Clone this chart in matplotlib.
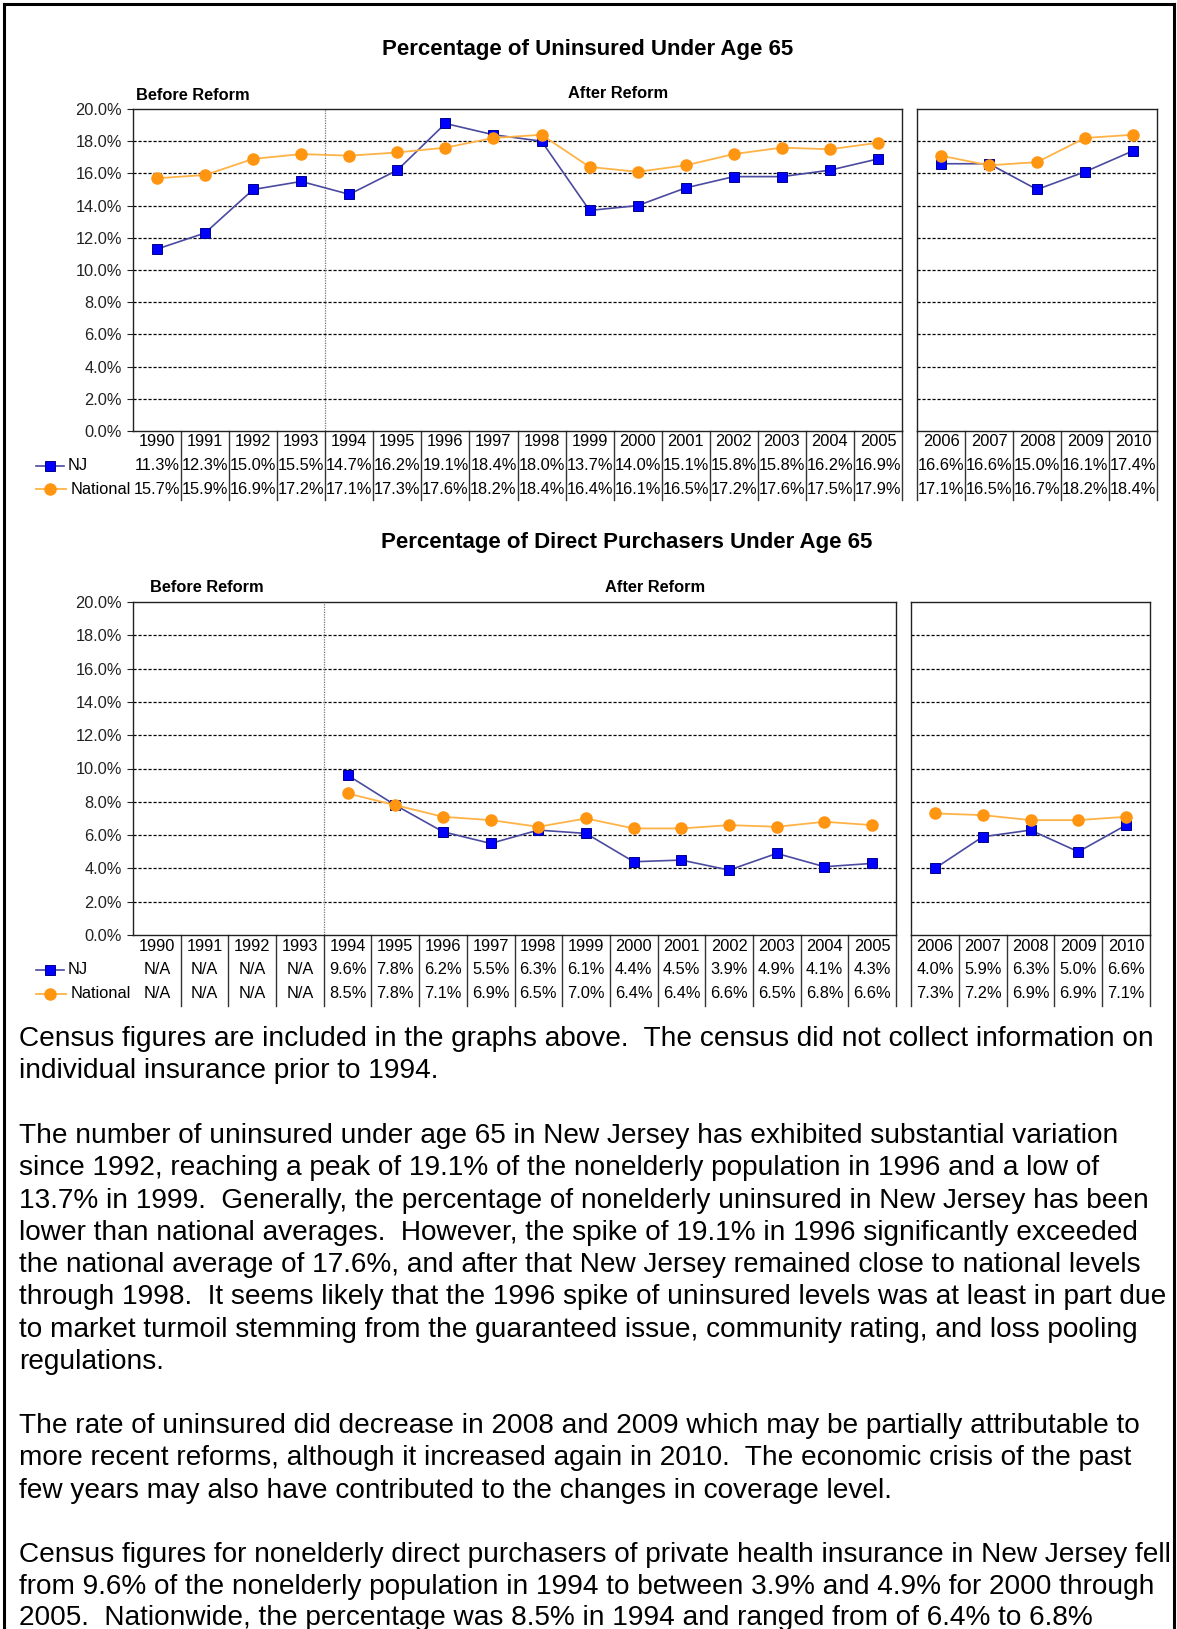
import numpy as np
import matplotlib
matplotlib.use("Agg")
import matplotlib.pyplot as plt
from matplotlib.lines import Line2D
from matplotlib.ticker import FormatStrFormatter
from matplotlib.transforms import blended_transform_factory

# ---- data ----
years_a = [str(y) for y in range(1990, 2006)]
years_b = ["2006", "2007", "2008", "2009", "2010"]

unins_nj_a = [11.3, 12.3, 15.0, 15.5, 14.7, 16.2, 19.1, 18.4, 18.0, 13.7, 14.0, 15.1, 15.8, 15.8, 16.2, 16.9]
unins_nat_a = [15.7, 15.9, 16.9, 17.2, 17.1, 17.3, 17.6, 18.2, 18.4, 16.4, 16.1, 16.5, 17.2, 17.6, 17.5, 17.9]
unins_nj_b = [16.6, 16.6, 15.0, 16.1, 17.4]
unins_nat_b = [17.1, 16.5, 16.7, 18.2, 18.4]

na = np.nan
direct_nj_a = [na, na, na, na, 9.6, 7.8, 6.2, 5.5, 6.3, 6.1, 4.4, 4.5, 3.9, 4.9, 4.1, 4.3]
direct_nat_a = [na, na, na, na, 8.5, 7.8, 7.1, 6.9, 6.5, 7.0, 6.4, 6.4, 6.6, 6.5, 6.8, 6.6]
direct_nj_b = [4.0, 5.9, 6.3, 5.0, 6.6]
direct_nat_b = [7.3, 7.2, 6.9, 6.9, 7.1]

para_lines = [
    ["Census figures are included in the graphs above.  The census did not collect information on",
     "individual insurance prior to 1994."],
    ["The number of uninsured under age 65 in New Jersey has exhibited substantial variation",
     "since 1992, reaching a peak of 19.1% of the nonelderly population in 1996 and a low of",
     "13.7% in 1999.  Generally, the percentage of nonelderly uninsured in New Jersey has been",
     "lower than national averages.  However, the spike of 19.1% in 1996 significantly exceeded",
     "the national average of 17.6%, and after that New Jersey remained close to national levels",
     "through 1998.  It seems likely that the 1996 spike of uninsured levels was at least in part due",
     "to market turmoil stemming from the guaranteed issue, community rating, and loss pooling",
     "regulations."],
    ["The rate of uninsured did decrease in 2008 and 2009 which may be partially attributable to",
     "more recent reforms, although it increased again in 2010.  The economic crisis of the past",
     "few years may also have contributed to the changes in coverage level."],
    ["Census figures for nonelderly direct purchasers of private health insurance in New Jersey fell",
     "from 9.6% of the nonelderly population in 1994 to between 3.9% and 4.9% for 2000 through",
     "2005.  Nationwide, the percentage was 8.5% in 1994 and ranged from of 6.4% to 6.8%"],
]

# ---- style ----
W, H = 1177, 1629
NJ_LINE, NJ_FILL, NJ_EDGE = "#4a4aa0", "#0000ff", "#00008b"
NAT_LINE, NAT_FILL = "#ffb347", "#ff9510"
TS = 11.8  # table / tick font size
plt.rcParams["font.family"] = "Liberation Sans"

fig = plt.figure(figsize=(W / 100, H / 100), dpi=100)


def fx(px):
    return px / W


def fy(py):
    return 1 - py / H


def fmt(v):
    return "N/A" if np.isnan(v) else "%.1f%%" % v


def panel(l, t, r, b, years, nj, nat, rows, line_bottom, first):
    ax = fig.add_axes([fx(l), fy(b), fx(r - l), (b - t) / H])
    x = np.arange(len(years))
    for v in range(2, 20, 2):
        ax.axhline(v, color="black", lw=0.9, ls=(0, (2.5, 1.5)), zorder=1)
    ax.plot(x, nj, color=NJ_LINE, lw=1.2, marker="s", ms=7, mfc=NJ_FILL, mec=NJ_EDGE, mew=0.7, zorder=3)
    ax.plot(x, nat, color=NAT_LINE, lw=1.3, marker="o", ms=8, mfc=NAT_FILL, mec=NAT_FILL, zorder=4)
    ax.set_xlim(-0.5, len(years) - 0.5)
    ax.set_ylim(0, 20)
    ax.set_xticks([])
    ax.set_yticks(np.arange(0, 21, 2))
    for s in ax.spines.values():
        s.set_color("#222222")
        s.set_linewidth(1.0)
    if first:
        ax.yaxis.set_major_formatter(FormatStrFormatter("%.1f%%"))
        ax.tick_params(axis="y", length=4, pad=4, labelsize=TS, colors="#222222")
        ax.axvline(3.5, color="#777777", lw=0.9, ls=(0, (1, 1)), zorder=2)
    else:
        ax.tick_params(axis="y", left=False, labelleft=False)

    # data table below the plot
    tr = blended_transform_factory(ax.transData, fig.transFigure)
    edges = x + 0.5 if first else np.append(x - 0.5, x[-1] + 0.5)
    for e in edges:
        ax.plot([e, e], [fy(b), fy(line_bottom)], color="#333333", lw=1.0,
                transform=tr, clip_on=False)
    for i, yr in enumerate(years):
        ax.text(i, fy(rows[0]), yr, transform=tr, ha="center", va="center", fontsize=TS)
        ax.text(i, fy(rows[1]), fmt(nj[i]), transform=tr, ha="center", va="center", fontsize=TS)
        ax.text(i, fy(rows[2]), fmt(nat[i]), transform=tr, ha="center", va="center", fontsize=TS)
    return ax


def row_keys(rows):
    fig.add_artist(Line2D([fx(36), fx(64)], [fy(rows[1])] * 2, color=NJ_LINE, lw=1.2))
    fig.add_artist(Line2D([fx(50)], [fy(rows[1])], marker="s", ms=7, mfc=NJ_FILL, mec=NJ_EDGE, mew=0.7))
    fig.text(fx(68), fy(rows[1]), "NJ", ha="left", va="center", fontsize=TS)
    fig.add_artist(Line2D([fx(36), fx(66)], [fy(rows[2])] * 2, color=NAT_LINE, lw=1.3))
    fig.add_artist(Line2D([fx(50)], [fy(rows[2])], marker="o", ms=8, mfc=NAT_FILL, mec=NAT_FILL))
    fig.text(fx(71), fy(rows[2]), "National", ha="left", va="center", fontsize=TS)


# ---- chart 1: uninsured ----
rows1 = [442, 466, 489]
fig.text(fx(588), fy(49), "Percentage of Uninsured Under Age 65", ha="center", va="center",
         fontsize=16, fontweight="bold")
panel(133, 109, 902, 431, years_a, unins_nj_a, unins_nat_a, rows1, 500, True)
panel(917, 109, 1157, 431, years_b, unins_nj_b, unins_nat_b, rows1, 500, False)
fig.text(fx(136), fy(95), "Before Reform", ha="left", va="center", fontsize=11.8, fontweight="bold")
fig.text(fx(618), fy(94), "After Reform", ha="center", va="center", fontsize=11.8, fontweight="bold")
row_keys(rows1)

# ---- chart 2: direct purchasers ----
rows2 = [947, 970, 994]
fig.text(fx(627), fy(543), "Percentage of Direct Purchasers Under Age 65", ha="center", va="center",
         fontsize=16, fontweight="bold")
panel(133, 602, 896, 935, years_a, direct_nj_a, direct_nat_a, rows2, 1006, True)
panel(911, 602, 1150, 935, years_b, direct_nj_b, direct_nat_b, rows2, 1006, False)
fig.text(fx(150), fy(587), "Before Reform", ha="left", va="center", fontsize=11.8, fontweight="bold")
fig.text(fx(655), fy(588), "After Reform", ha="center", va="center", fontsize=11.8, fontweight="bold")
row_keys(rows2)

# ---- text paragraphs ----
renderer = fig.canvas.get_renderer()
para_tops = [1039, 1136, 1426, 1555]
for p, (top, lines) in enumerate(zip(para_tops, para_lines)):
    texts = []
    for k, line in enumerate(lines):
        step = 31.5 if p == 3 else 32.3
        texts.append(fig.text(fx(19), fy(top + k * step), line, ha="left", va="center", fontsize=20.2))
    if p == 3:
        # last paragraph is set a bit tighter: fit first line to its width in the page
        w = texts[0].get_window_extent(renderer).width
        fs = 20.2 * 1150 / w
        for t in texts:
            t.set_fontsize(fs)

# ---- page border ----
fig.add_artist(Line2D([fx(3.5), fx(3.5)], [0, fy(3.5)], color="black", lw=2.2))
fig.add_artist(Line2D([fx(3.5), fx(1173.5)], [fy(3.5), fy(3.5)], color="black", lw=2.2))
fig.add_artist(Line2D([fx(1173.5), fx(1173.5)], [0, fy(3.5)], color="black", lw=2.2))

fig.savefig("out.png", dpi=100)
